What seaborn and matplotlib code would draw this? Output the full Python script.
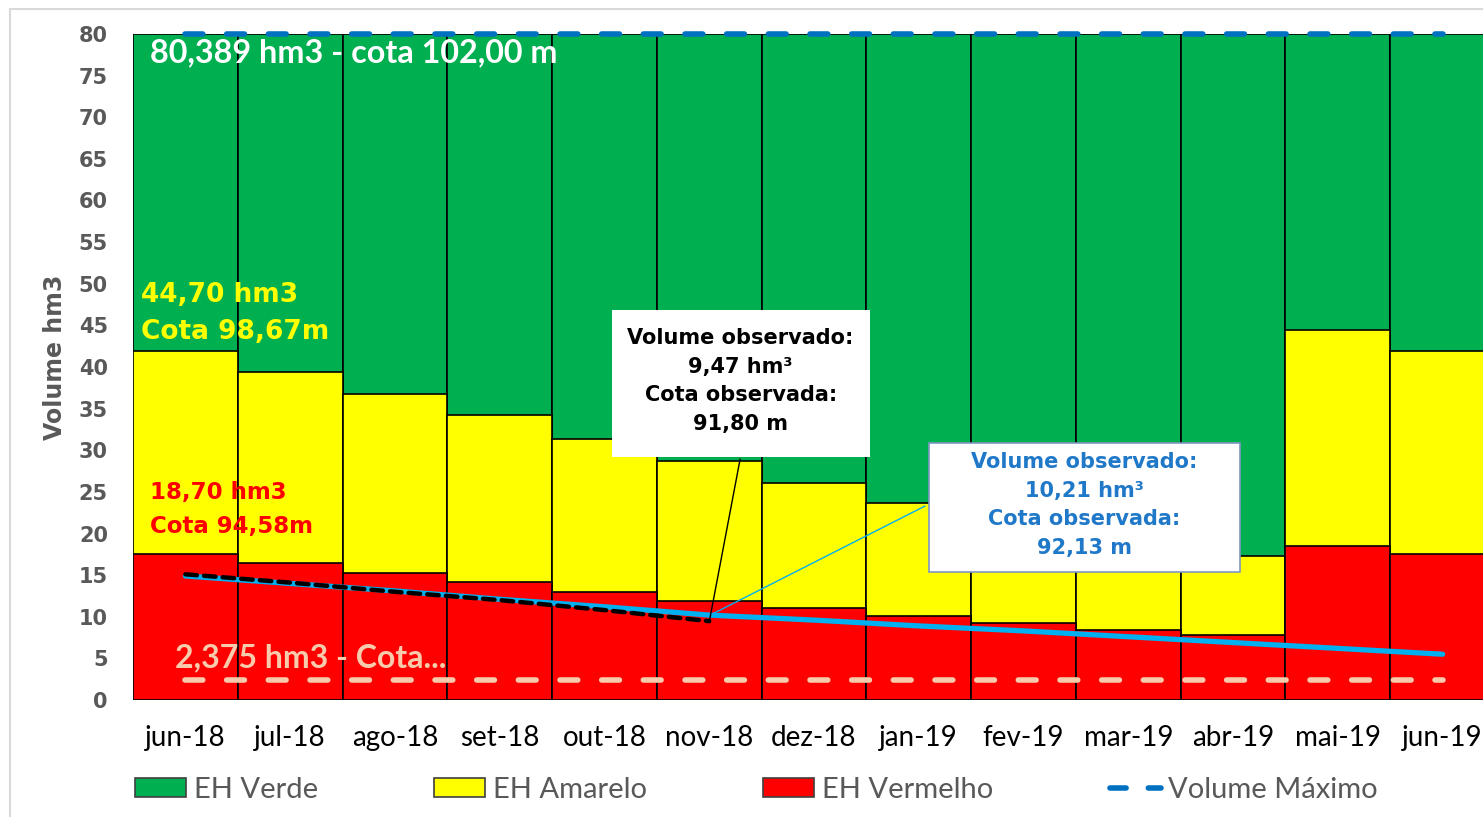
import matplotlib
matplotlib.use("Agg")
import matplotlib.pyplot as plt
import seaborn as sns
import numpy as np
import pandas as pd
from matplotlib.patches import Patch, Rectangle
from matplotlib.lines import Line2D

sns.set_style("white")
plt.rcParams['font.family'] = ['DejaVu Sans']

# Data
months = ['jun-18', 'jul-18', 'ago-18', 'set-18', 'out-18', 'nov-18', 'dez-18',
          'jan-19', 'fev-19', 'mar-19', 'abr-19', 'mai-19', 'jun-19']
eh_verde = [80, 80, 80, 80, 80, 80, 80, 80, 80, 80, 80, 80, 80]
eh_amarelo = [41.9, 39.4, 36.8, 34.2, 31.4, 28.7, 26.1, 23.7, 21.5, 19.4, 17.3, 44.5, 41.9]
eh_vermelho = [17.5, 16.5, 15.3, 14.2, 13.0, 11.9, 11.0, 10.1, 9.2, 8.4, 7.8, 18.5, 17.5]
volume_previsto = [14.9, 14.0, 13.1, 12.1, 11.2, 10.2, 9.6, 8.9, 8.3, 7.6, 6.9, 6.2, 5.5]
volume_observado = [15.1, 14.1, 13.0, 12.0, 10.8, 9.47]
volume_maximo = [80] * 13
volume_minimo = [2.375] * 13

df = pd.DataFrame({'mes': months, 'verde': eh_verde, 'amarelo': eh_amarelo,
                   'vermelho': eh_vermelho})

GREEN = '#00B050'
YELLOW = '#FFFF00'
RED = '#FF0000'
GRAY = '#595959'

W, H = 1483, 817
fig = plt.figure(figsize=(W / 100, H / 100), dpi=100)
fig.patch.set_facecolor('white')

# outer chart frame (light gray, cut off on right/bottom)
fig.add_artist(Line2D([10 / W, 10 / W], [0, 1 - 9 / H], color='#D9D9D9', lw=1.5))
fig.add_artist(Line2D([10 / W, 1], [1 - 9 / H, 1 - 9 / H], color='#D9D9D9', lw=1.5))

ax = fig.add_axes([133 / W, 1 - 700 / H, (1495 - 133) / W, (700 - 34) / H])

# stacked bars drawn as overlapping cumulative bars
for col, c in [('verde', GREEN), ('amarelo', YELLOW), ('vermelho', RED)]:
    sns.barplot(data=df, x='mes', y=col, color=c, saturation=1, width=1.0,
                edgecolor='black', linewidth=1.2, ax=ax)

xpos = np.arange(len(months))
ax.plot(xpos, volume_maximo, color='#0070C0', lw=4, dashes=(3.2, 4.3),
        dash_capstyle='round', clip_on=False, zorder=5)
ax.plot(xpos, volume_minimo, color='#F8CBAD', lw=4, dashes=(3.2, 4.3),
        dash_capstyle='round', zorder=5)
ax.plot(xpos, volume_previsto, color='#00B0F0', lw=3.8, solid_capstyle='round', zorder=5)
ax.plot(xpos[:len(volume_observado)], volume_observado, color='black', lw=3.2,
        dashes=(2.6, 1.6), dash_capstyle='round', zorder=6)

ax.set_xlim(-0.5, len(months) - 0.5)
ax.set_ylim(0, 80)
ax.set_yticks(np.arange(0, 81, 5))
ax.set_xlabel('')
ax.set_ylabel('Volume hm3', fontsize=17, fontweight='bold', color=GRAY)
ax.yaxis.set_label_coords(-0.0485, 0.515)
ax.tick_params(axis='y', length=0, pad=18, labelsize=15, labelcolor=GRAY)
ax.tick_params(axis='x', length=0, pad=18, labelsize=20, labelcolor='black')
for lab in ax.get_yticklabels():
    lab.set_fontweight('bold')
for lab in ax.get_xticklabels():
    lab.set_fontfamily('Lato')
for s in ax.spines.values():
    s.set_visible(False)

# reference labels
ax.text(-0.34, 77.7, '80,389 hm3 - cota 102,00 m', color='white', fontsize=23.3,
        fontweight='bold', family='Lato', va='center', ha='left', zorder=7)
ax.text(-0.42, 48.6, '44,70 hm3', color=YELLOW, fontsize=19, fontweight='bold',
        va='center', ha='left', zorder=7)
ax.text(-0.42, 44.2, 'Cota 98,67m', color=YELLOW, fontsize=19, fontweight='bold',
        va='center', ha='left', zorder=7)
ax.text(-0.34, 24.9, '18,70 hm3', color=RED, fontsize=16.5, fontweight='bold',
        va='center', ha='left', zorder=7)
ax.text(-0.34, 20.9, 'Cota 94,58m', color=RED, fontsize=16.5, fontweight='bold',
        va='center', ha='left', zorder=7)
ax.text(-0.1, 5.05, '2,375 hm3 - Cota...', color='#F8CBAD', fontsize=23,
        fontweight='bold', family='Lato', va='center', ha='left', zorder=7)

# callout boxes
ax.add_line(Line2D([5.295, 5.0], [28.95, 9.37], color='black', lw=1, zorder=7))
ax.add_patch(Rectangle((4.07, 29.19), 2.46, 17.66, facecolor='white',
                       edgecolor='none', zorder=8))
for yy, t in zip([43.5, 40.0, 36.6, 33.1],
                 ['Volume observado:', '9,47 hm³', 'Cota observada:', '91,80 m']):
    ax.text(5.3, yy, t, color='black', fontsize=15, fontweight='bold',
            ha='center', va='center', zorder=9)

ax.add_line(Line2D([7.06, 5.03], [23.3, 10.33], color='#00B0F0', lw=1, zorder=7))
ax.add_patch(Rectangle((7.10, 15.38), 2.97, 15.49, facecolor='white',
                       edgecolor='#7F96C2', lw=1.2, zorder=8))
for yy, t in zip([28.6, 25.1, 21.7, 18.2],
                 ['Volume observado:', '10,21 hm³', 'Cota observada:', '92,13 m']):
    ax.text(8.58, yy, t, color='#1F78C8', fontsize=15, fontweight='bold',
            ha='center', va='center', zorder=9)

# legend
handles = [Patch(facecolor=GREEN, edgecolor='#404040', lw=1.2, label='EH Verde'),
           Patch(facecolor=YELLOW, edgecolor='#404040', lw=1.2, label='EH Amarelo'),
           Patch(facecolor=RED, edgecolor='#404040', lw=1.2, label='EH Vermelho'),
           Line2D([], [], color='#0070C0', lw=4, dashes=(2.9, 4.0),
                  dash_capstyle='round', label='Volume Máximo')]
leg = fig.legend(handles=handles, loc='center left', bbox_to_anchor=(109 / W, 1 - 790 / H),
                 ncol=4, frameon=False, handlelength=1.75, handleheight=0.6,
                 handletextpad=0.25, columnspacing=4.0,
                 prop={'family': 'Lato', 'size': 21})
for t in leg.get_texts():
    t.set_color(GRAY)

fig.savefig('out.png', dpi=100, facecolor='white')
